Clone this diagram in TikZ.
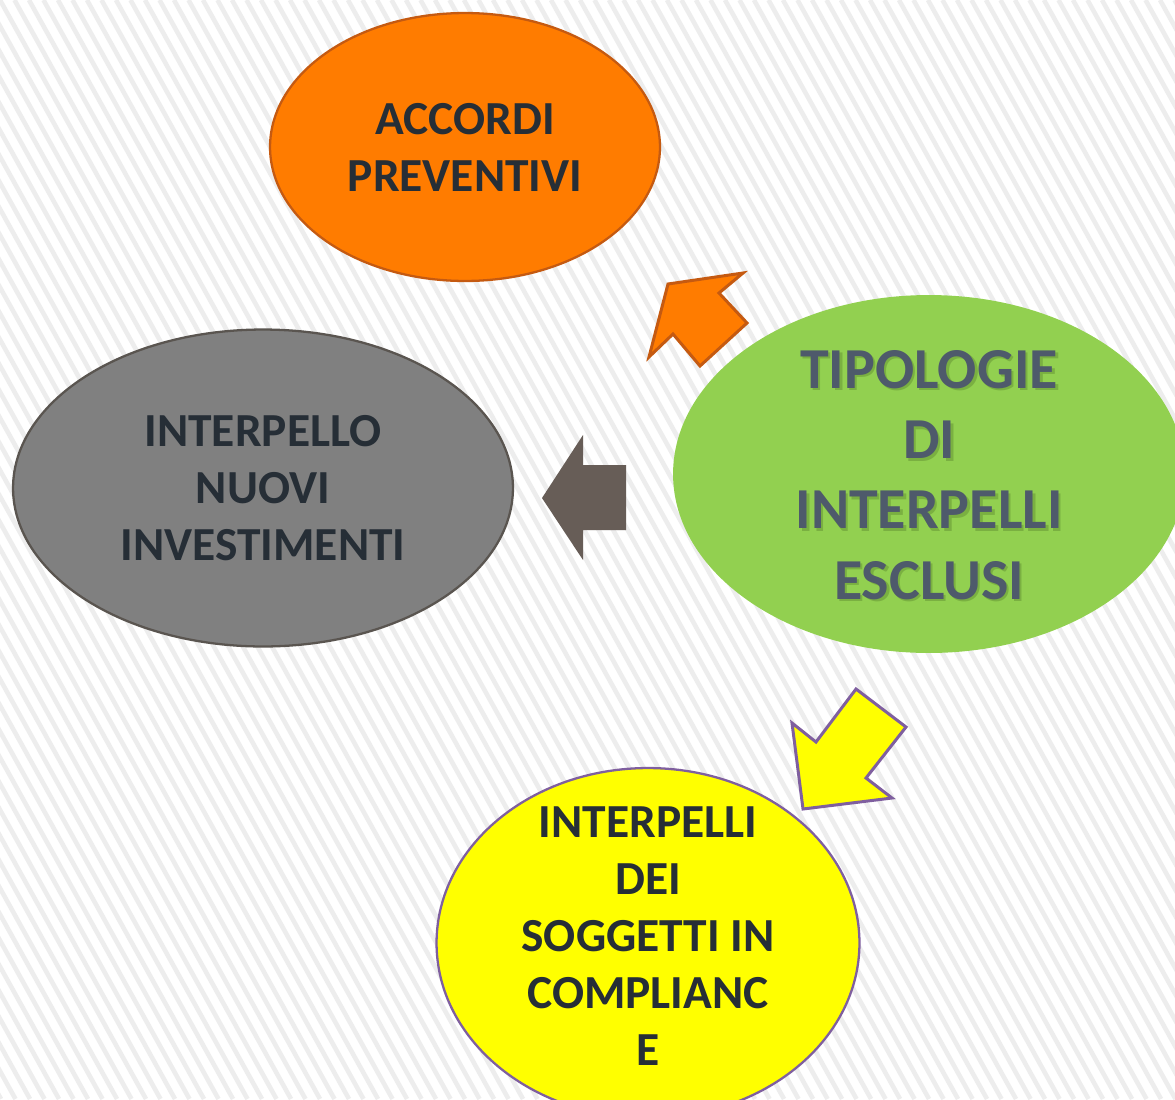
\documentclass[tikz,border=0pt]{standalone}
\usepackage{fontspec}
\setmainfont{Carlito}
\usepackage{xcolor}
\usetikzlibrary{shapes.geometric}

\definecolor{accfill}{HTML}{FF7C00}
\definecolor{accline}{HTML}{C55A11}
\definecolor{nuofill}{HTML}{808080}
\definecolor{nuoline}{HTML}{5A5550}
\definecolor{tipfill}{HTML}{92D050}
\definecolor{soggfill}{HTML}{FFFF00}
\definecolor{soggline}{HTML}{7F5F9F}
\definecolor{freccia}{HTML}{675D57}
\definecolor{testo}{HTML}{262E36}
\definecolor{testotip}{HTML}{4E5A6B}
\definecolor{ombra}{HTML}{5E8A30}
\definecolor{righe}{HTML}{EDEDED}

\begin{document}
\begin{tikzpicture}[
  x=0.02cm, y=-0.02cm,
  bolla/.style={ellipse, inner sep=0pt, line width=1.3pt},
  scritta/.style={align=center, inner sep=0pt, text=testo, font=\bfseries\fontsize{27}{32.5}\selectfont},
  titolo/.style={align=center, inner sep=0pt, font=\bfseries\fontsize{33}{40}\selectfont},
  blocco/.style={line width=1.7pt, line join=miter}
]
  \useasboundingbox[fill=white] (0,0) rectangle (1175,1099);

  % sfondo a righe oblique
  \begin{scope}
    \clip (0,0) rectangle (1175,1099);
    \foreach \i in {-44,...,82}
      \draw[righe, line width=2.6pt] (\i*14.5,0) -- ++(610,1099);
  \end{scope}

  \node[bolla, fill=accfill, draw=accline, minimum width=7.8cm, minimum height=5.36cm] (acc) at (465,147) {};
  \node[bolla, fill=nuofill, draw=nuoline, minimum width=10cm, minimum height=6.34cm] (nuo) at (263,488) {};
  \node[bolla, fill=tipfill, minimum width=10.24cm, minimum height=7.16cm] (tip) at (929,474) {};
  \node[bolla, fill=soggfill, draw=soggline, minimum width=8.46cm, minimum height=7cm] (sogg) at (648,943) {};

  \node[scritta] (accT) at (acc) {ACCORDI\\PREVENTIVI};
  \node[scritta] (nuoT) at (nuo) {INTERPELLO\\NUOVI\\INVESTIMENTI};
  \node[titolo, text=ombra, opacity=0.45] (tipS) at (931.5,477.5) {TIPOLOGIE\\DI\\INTERPELLI\\ESCLUSI};
  \node[titolo, text=testotip] (tipT) at (929,475) {TIPOLOGIE\\DI\\INTERPELLI\\ESCLUSI};
  \node[scritta] (soggT) at (648,936) {INTERPELLI\\DEI\\SOGGETTI IN\\COMPLIANC\\E};

  % frecce a blocco
  \filldraw[blocco, fill=accfill, draw=accline]
    (668,284) -- (743,273) -- (719,293) -- (747,323) -- (700,366) -- (673,334) -- (649,357) -- cycle;
  \fill[freccia]
    (583,435) -- (583,465) -- (626,465) -- (626,530) -- (583,530) -- (583,560) -- (542,498) -- cycle;
  \filldraw[blocco, fill=soggfill, draw=soggline]
    (856,689) -- (906,727) -- (866,778) -- (892,798) -- (803,809) -- (792,723) -- (816,742) -- cycle;
\end{tikzpicture}
\end{document}
